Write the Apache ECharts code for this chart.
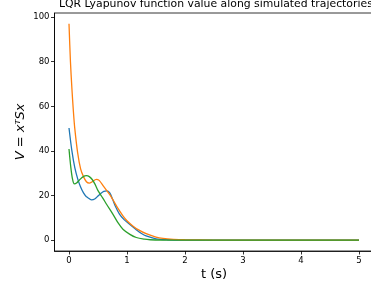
<!DOCTYPE html>
<html><head><meta charset="utf-8">
<script src="https://cdn.jsdelivr.net/npm/echarts@6/dist/echarts.min.js"></script>
<style>html,body{margin:0;padding:0;background:#fff}#c{width:371px;height:290px}</style>
</head><body><div id="c"></div>
<script>
const titleText = 'LQR Lyapunov function value along simulated trajectories';
const xTicks = [0, 1, 2, 3, 4, 5];
const yTicks = [0, 20, 40, 60, 80, 100];

const blueT = [0, 0.05, 0.1, 0.15, 0.2, 0.25, 0.3, 0.39, 0.45, 0.5, 0.55, 0.6, 0.65, 0.7, 0.75, 0.8, 0.87, 0.95, 1.05, 1.15, 1.25, 1.33, 1.5, 1.7, 2.0, 2.5, 5];
const blueV = [50.3, 40, 32.5, 27.5, 23.8, 21.2, 19.5, 18.1, 18.6, 19.8, 21, 21.9, 22.1, 21.3, 18.5, 15.2, 11.7, 9.2, 7.0, 4.9, 3.0, 1.9, 0.6, 0.2, 0.05, 0, 0];

const orangeT = [0, 0.025, 0.05, 0.075, 0.1, 0.15, 0.2, 0.25, 0.3, 0.35, 0.4, 0.47, 0.52, 0.6, 0.7, 0.76, 0.85, 0.93, 1.0, 1.1, 1.2, 1.33, 1.5, 1.62, 1.8, 2.0, 2.5, 3, 5];
const orangeV = [97, 80, 68, 58, 50, 39, 32, 28.5, 26.2, 25.6, 26.2, 27.3, 26.8, 24, 20.5, 18, 14, 10.9, 8.7, 6.4, 4.6, 2.9, 1.4, 0.8, 0.4, 0.2, 0.05, 0, 0];

const greenT = [0, 0.03, 0.06, 0.092, 0.13, 0.18, 0.24, 0.3, 0.35, 0.4, 0.45, 0.5, 0.58, 0.65, 0.756, 0.85, 0.93, 1.05, 1.16, 1.3, 1.4, 1.6, 2, 5];
const greenV = [40.9, 33, 27.5, 25.2, 25.6, 27, 28.4, 28.9, 28.5, 27.2, 25, 22.2, 19, 16, 11.7, 7.6, 4.9, 2.6, 1.2, 0.45, 0.2, 0.05, 0, 0];

const colors = ['#1f77b4', '#ff7f0e', '#2ca02c'];
const pair = (t, v) => t.map((x, i) => [x, v[i]]);

const chart = echarts.init(document.getElementById('c'), null, {renderer: 'canvas'});
const font = 'DejaVu Sans';
chart.setOption({
  animation: false,
  title: {
    text: titleText, left: 59, top: -1, padding: 0,
    textStyle: {fontFamily: font, fontSize: 10.85, fontWeight: 'normal', color: '#000'}
  },
  grid: {left: 54.5, width: 319, top: 13, bottom: 39, outerBoundsMode: 'none', containLabel: false,
         show: true, borderColor: '#000', borderWidth: 0.8},
  xAxis: {
    type: 'value', min: -0.25, max: 5.25,
    name: 't (s)', nameLocation: 'middle', nameGap: 17, nameMoveOverlap: false,
    nameTextStyle: {fontFamily: font, fontSize: 13, color: '#000'},
    axisLine: {show: true, onZero: false, lineStyle: {color: '#000', width: 0.8}},
    axisTick: {show: true, length: 3.5, lineStyle: {color: '#000', width: 0.8}, customValues: xTicks},
    axisLabel: {fontFamily: font, fontSize: 8.5, color: '#000', margin: 5, customValues: xTicks},
    splitLine: {show: false}
  },
  yAxis: {
    type: 'value', min: -4.85, max: 101.85,
    name: 'V = xᵀSx', nameLocation: 'middle', nameGap: 27, nameMoveOverlap: false,
    nameTextStyle: {fontFamily: font, fontSize: 13, fontStyle: 'italic', color: '#000'},
    axisLine: {show: true, onZero: false, lineStyle: {color: '#000', width: 0.8}},
    axisTick: {show: true, length: 3.5, lineStyle: {color: '#000', width: 0.8}, customValues: yTicks},
    axisLabel: {fontFamily: font, fontSize: 8.5, color: '#000', margin: 5, customValues: yTicks},
    splitLine: {show: false}
  },
  series: [
    {type: 'line', data: pair(blueT, blueV), showSymbol: false, smooth: 0.3, lineStyle: {color: colors[0], width: 1.3}, z: 3},
    {type: 'line', data: pair(orangeT, orangeV), showSymbol: false, smooth: 0.3, lineStyle: {color: colors[1], width: 1.3}, z: 4},
    {type: 'line', data: pair(greenT, greenV), showSymbol: false, smooth: 0.3, lineStyle: {color: colors[2], width: 1.3}, z: 5}
  ]
});
</script></body></html>
